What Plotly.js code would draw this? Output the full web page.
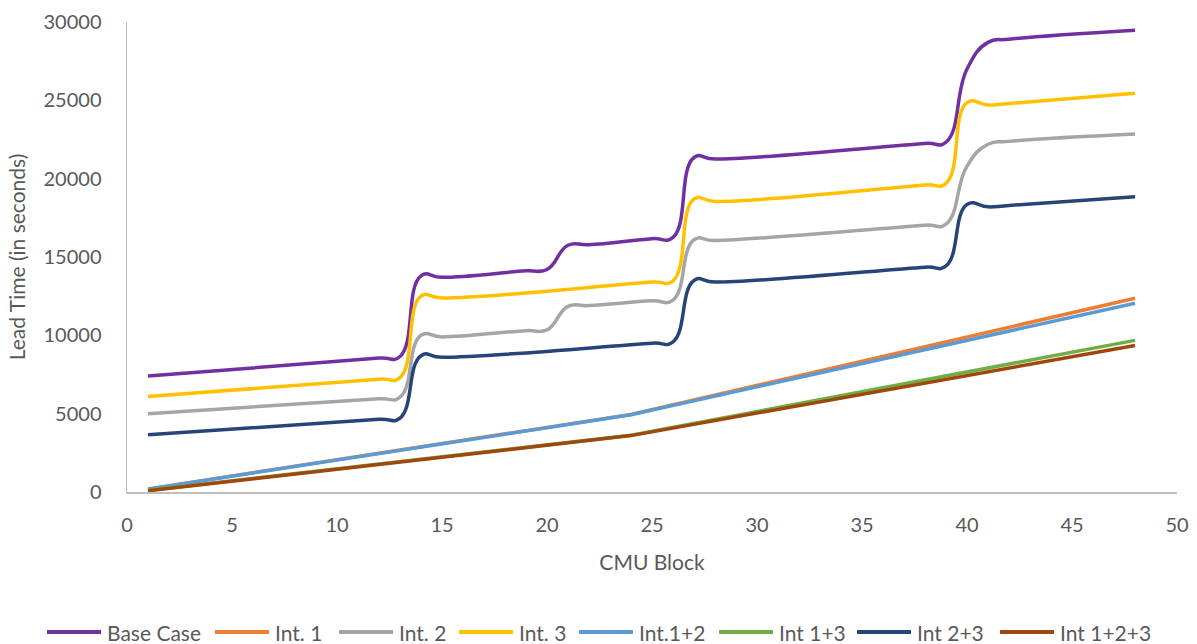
<!DOCTYPE html>
<html>
<head>
<meta charset="utf-8">
<script src="https://cdn.plot.ly/plotly-3.0.1.min.js"></script>
<style>html,body{margin:0;padding:0;background:#fff;}#chart{width:1197px;height:644px;}</style>
</head>
<body>
<div id="chart"></div>
<script>
// CMU block positions, per series
const stepBlocksA = [1, 12, 13, 14, 15, 19, 20, 21, 22, 25, 26, 27, 28, 38, 39, 40, 41, 42, 48];
const stepBlocksB = [1, 12, 13, 14, 15, 25, 26, 27, 28, 38, 39, 40, 41, 42, 48];
const lineBlocks = [1, 24, 48];

// Lead time values (seconds)
const baseCase = [7400, 8550, 8650, 13800, 13700, 14120, 14200, 15750, 15780, 16170, 16250, 21350, 21250, 22250, 22330, 27000, 28700, 28900, 29480];
const int1 = [200, 4950, 12370];
const int2 = [5000, 5950, 6050, 10000, 9900, 10300, 10350, 11850, 11900, 12200, 12250, 16100, 16050, 17030, 17100, 20800, 22200, 22380, 22850];
const int3 = [6100, 7200, 7300, 12500, 12380, 13400, 13480, 18700, 18550, 19600, 19700, 24850, 24700, 24800, 25450];
const int12 = [180, 4930, 12050];
const int13 = [100, 3620, 9680];
const int23 = [3650, 4640, 4720, 8700, 8600, 9500, 9580, 13500, 13400, 14350, 14430, 18350, 18200, 18290, 18850];
const int123 = [80, 3600, 9350];

const names = ['Base Case', 'Int. 1', 'Int. 2', 'Int. 3', 'Int.1+2', 'Int 1+3', 'Int 2+3', 'Int 1+2+3'];
const colors = ['#7030A0', '#ED7D31', '#A5A5A5', '#FFC000', '#5B9BD5', '#70AD47', '#264478', '#9E480E'];
const xs = [stepBlocksA, lineBlocks, stepBlocksA, stepBlocksB, lineBlocks, lineBlocks, stepBlocksB, lineBlocks];
const ys = [baseCase, int1, int2, int3, int12, int13, int23, int123];
const shapes = ['spline', 'linear', 'spline', 'spline', 'linear', 'linear', 'spline', 'linear'];

const FONT = 'Lato, "Open Sans", sans-serif';
const TXT = '#595959';

// Legend layout (pixel positions of each key's line start in the page)
const PLOT_L = 127, PLOT_R = 1177, PLOT_T = 22, PLOT_B = 492;
const legendLineStart = [47, 215, 339, 459, 579, 719, 857, 1000];
const legendLineLen = 54, legendTextGap = 4, legendY = 632;
const px2x = p => (p - PLOT_L) / (PLOT_R - PLOT_L);
const py2y = p => (PLOT_B - p) / (PLOT_B - PLOT_T);

const traces = names.map((n, i) => ({
  type: 'scatter',
  mode: 'lines',
  name: n,
  x: xs[i],
  y: ys[i],
  line: {color: colors[i], width: 3.5, shape: shapes[i], smoothing: 1.3}
}));

const legendShapes = names.map((n, i) => ({
  type: 'line', xref: 'paper', yref: 'paper', layer: 'above',
  x0: px2x(legendLineStart[i]), x1: px2x(legendLineStart[i] + legendLineLen),
  y0: py2y(legendY), y1: py2y(legendY),
  line: {color: colors[i], width: 4}
}));
const legendLabels = names.map((n, i) => ({
  xref: 'paper', yref: 'paper',
  x: px2x(legendLineStart[i] + legendLineLen + legendTextGap),
  y: py2y(legendY),
  xanchor: 'left', yanchor: 'middle',
  text: n, showarrow: false,
  font: {family: FONT, size: 21, color: TXT}
}));

const layout = {
  width: 1197,
  height: 644,
  margin: {l: PLOT_L, r: 1197 - PLOT_R, t: PLOT_T, b: 644 - PLOT_B},
  paper_bgcolor: '#ffffff',
  plot_bgcolor: '#ffffff',
  font: {family: FONT, color: TXT, size: 20},
  showlegend: false,
  xaxis: {
    range: [0, 50],
    tick0: 0,
    dtick: 5,
    showgrid: false,
    zeroline: false,
    showline: true,
    linecolor: '#bfbfbf',
    linewidth: 1.5,
    ticks: '',
    ticklabelstandoff: 14,
    tickfont: {family: FONT, size: 20, color: TXT},
    title: {text: 'CMU Block', font: {family: FONT, size: 21, color: TXT}, standoff: 21}
  },
  yaxis: {
    range: [0, 30000],
    tick0: 0,
    dtick: 5000,
    tickformat: 'd',
    showgrid: false,
    zeroline: false,
    showline: true,
    linecolor: '#bfbfbf',
    linewidth: 1.5,
    ticks: '',
    ticklabelstandoff: 20,
    tickfont: {family: FONT, size: 20, color: TXT},
    title: {text: 'Lead Time (in seconds)', font: {family: FONT, size: 21, color: TXT}, standoff: 12}
  },
  shapes: legendShapes,
  annotations: legendLabels
};

Plotly.newPlot('chart', traces, layout, {displayModeBar: false, staticPlot: true});
</script>
</body>
</html>
